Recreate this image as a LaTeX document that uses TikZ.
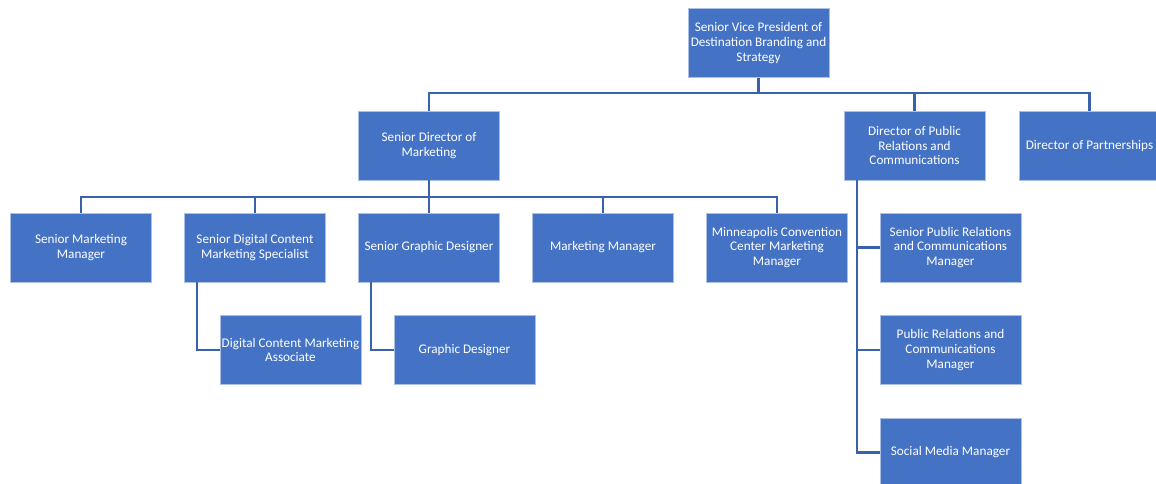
\documentclass[tikz,border=0pt]{standalone}
\usepackage{fontspec}
\setmainfont{Carlito}
\definecolor{boxblue}{HTML}{4472C4}
\definecolor{linkblue}{HTML}{3A62AA}
\begin{document}
\begin{tikzpicture}[x=1pt,y=-1pt,
  box/.style={rectangle, fill=boxblue, draw=white!55!boxblue, line width=0.7pt,
    minimum width=141pt, minimum height=69pt, inner sep=0pt, text=white,
    align=center, font=\fontsize{13.2}{14.6}\selectfont},
  conn/.style={draw=linkblue, line width=2.8pt}]
\useasboundingbox (0,0) rectangle (1156,483);
% level 1
\node[box] (svp) at (758.5,43) {Senior Vice President of\\Destination Branding and\\Strategy};
% level 2
\node[box] (sdm) at (429,145.5) {Senior Director of\\Marketing};
\node[box] (dpr) at (914.5,145.5) {Director of Public\\Relations and\\Communications};
\node[box] (dp) at (1089.5,145.5) {Director of Partnerships};
% level 3
\node[box] (smm) at (81,247.5) {Senior Marketing\\Manager};
\node[box] (sdc) at (255,247.5) {Senior Digital Content\\Marketing Specialist};
\node[box] (sgd) at (429,247.5) {Senior Graphic Designer};
\node[box] (mm) at (603,247.5) {Marketing Manager};
\node[box] (mcc) at (777,247.5) {Minneapolis Convention\\Center Marketing\\Manager};
% level 4
\node[box] (dca) at (290.5,350) {Digital Content Marketing\\Associate};
\node[box] (gd) at (464.5,350) {Graphic Designer};
% PR branch
\node[box] (spr) at (950.5,247.5) {Senior Public Relations\\and Communications\\Manager};
\node[box] (prm) at (950.5,350) {Public Relations and\\Communications\\Manager};
\node[box] (smg) at (950.5,452.5) {Social Media Manager};
% coordinates
\coordinate (bus1) at (758.5,93);
\coordinate (bus2) at (429,197);
\coordinate (sdcl) at (197,0);
\coordinate (sgdl) at (371,0);
\coordinate (prl) at (857,0);
% connectors
\draw[conn] (svp.south) -- (bus1);
\draw[conn] (sdm.north) |- (bus1) -| (dp.north);
\draw[conn] (bus1) -| (dpr.north);
\draw[conn] (sdm.south) -- (bus2);
\draw[conn] (smm.north) |- (bus2) -| (mcc.north);
\draw[conn] (bus2) -| (sdc.north);
\draw[conn] (bus2) -- (sgd.north);
\draw[conn] (bus2) -| (mm.north);
\draw[conn] (sdcl |- sdc.south) |- (dca.west);
\draw[conn] (sgdl |- sgd.south) |- (gd.west);
\draw[conn] (prl |- dpr.south) |- (smg.west);
\draw[conn] (prl |- spr.west) -- (spr.west);
\draw[conn] (prl |- prm.west) -- (prm.west);
\end{tikzpicture}
\end{document}
